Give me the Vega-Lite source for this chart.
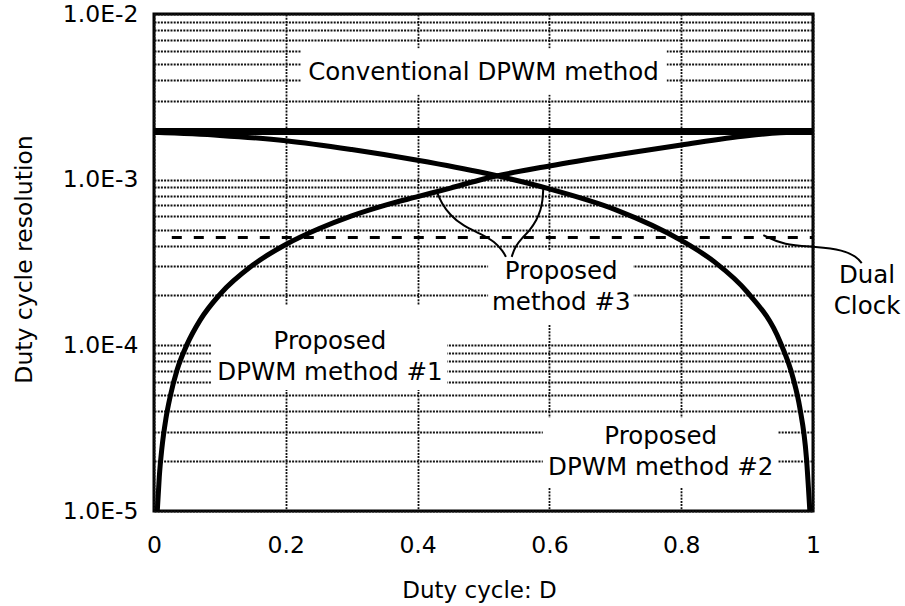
{
  "$schema": "https://vega.github.io/schema/vega-lite/v6.json",
  "width": 659,
  "height": 497,
  "autosize": {"type": "none"},
  "padding": {"left": 154, "top": 14, "right": 92, "bottom": 95},
  "background": "white",
  "config": {"view": {"stroke": "black", "strokeWidth": 3}, "font": "DejaVu Sans"},
  "datasets": {
    "boxes": [
      {"D": 0.223, "D2": 0.778, "res": 0.00325, "res2": 0.00622},
      {"D": 0.507, "D2": 0.727, "res": 0.000133, "res2": 0.000376},
      {"D": 0.087, "D2": 0.445, "res": 0.0000537, "res2": 0.000175},
      {"D": 0.59, "D2": 0.947, "res": 0.00001377, "res2": 0.0000364}
    ],
    "conventional": [{"D": 0, "res": 0.001953}, {"D": 1, "res": 0.001953}],
    "dual": [{"D": 0.027, "res": 0.000447}, {"D": 1, "res": 0.000447}],
    "rising": [
      {"D": 0.005, "res": 0.00001},
      {"D": 0.008, "res": 0.000016},
      {"D": 0.012, "res": 0.000024},
      {"D": 0.018, "res": 0.000036},
      {"D": 0.025, "res": 0.00005},
      {"D": 0.035, "res": 0.000071},
      {"D": 0.05, "res": 0.000101},
      {"D": 0.07, "res": 0.000142},
      {"D": 0.1, "res": 0.000203},
      {"D": 0.15, "res": 0.000305},
      {"D": 0.2, "res": 0.000406},
      {"D": 0.25, "res": 0.000505},
      {"D": 0.3, "res": 0.000605},
      {"D": 0.35, "res": 0.0007},
      {"D": 0.4, "res": 0.00079},
      {"D": 0.45, "res": 0.00089},
      {"D": 0.5, "res": 0.00101},
      {"D": 0.6, "res": 0.00121},
      {"D": 0.7, "res": 0.00141},
      {"D": 0.8, "res": 0.00162},
      {"D": 0.9, "res": 0.00184},
      {"D": 0.95, "res": 0.00192},
      {"D": 1.0, "res": 0.001953}
    ],
    "falling": [
      {"D": 0, "res": 0.00193},
      {"D": 0.1, "res": 0.00185},
      {"D": 0.2, "res": 0.00172},
      {"D": 0.3, "res": 0.00152},
      {"D": 0.4, "res": 0.00131},
      {"D": 0.5, "res": 0.0011},
      {"D": 0.6, "res": 0.00088},
      {"D": 0.7, "res": 0.00066},
      {"D": 0.8, "res": 0.00043},
      {"D": 0.85, "res": 0.00032},
      {"D": 0.9, "res": 0.00021},
      {"D": 0.95, "res": 0.000105},
      {"D": 0.97, "res": 0.000063},
      {"D": 0.98, "res": 0.000042},
      {"D": 0.99, "res": 0.000021},
      {"D": 0.9952, "res": 0.00001}
    ],
    "leaders": [
      {"lead": "dual", "i": 0, "D": 0.9246, "res": 0.000463},
      {"lead": "dual", "i": 1, "D": 0.955, "res": 0.000403},
      {"lead": "dual", "i": 2, "D": 1.0056, "res": 0.000394},
      {"lead": "dual", "i": 3, "D": 1.046, "res": 0.000376},
      {"lead": "dual", "i": 4, "D": 1.0663, "res": 0.000342},
      {"lead": "dual", "i": 5, "D": 1.0739, "res": 0.000313},
      {"lead": "left3", "i": 0, "D": 0.429, "res": 0.000845},
      {"lead": "left3", "i": 1, "D": 0.4366, "res": 0.000719},
      {"lead": "left3", "i": 2, "D": 0.4492, "res": 0.000611},
      {"lead": "left3", "i": 3, "D": 0.4693, "res": 0.000525},
      {"lead": "left3", "i": 4, "D": 0.4947, "res": 0.000474},
      {"lead": "left3", "i": 5, "D": 0.5175, "res": 0.000422},
      {"lead": "left3", "i": 6, "D": 0.53, "res": 0.000367},
      {"lead": "left3", "i": 7, "D": 0.534, "res": 0.000342},
      {"lead": "right3", "i": 0, "D": 0.5907, "res": 0.000886},
      {"lead": "right3", "i": 1, "D": 0.5898, "res": 0.000753},
      {"lead": "right3", "i": 2, "D": 0.5868, "res": 0.000655},
      {"lead": "right3", "i": 3, "D": 0.5807, "res": 0.000571},
      {"lead": "right3", "i": 4, "D": 0.5706, "res": 0.000496},
      {"lead": "right3", "i": 5, "D": 0.558, "res": 0.000442},
      {"lead": "right3", "i": 6, "D": 0.5478, "res": 0.000394},
      {"lead": "right3", "i": 7, "D": 0.5428, "res": 0.000342}
    ],
    "labels": [
      {"D": 0.5, "res": 0.00438, "label": "Conventional DPWM method"},
      {"D": 0.267, "res": 0.000105, "label": "Proposed\nDPWM method #1"},
      {"D": 0.769, "res": 0.0000278, "label": "Proposed\nDPWM method #2"},
      {"D": 0.618, "res": 0.000277, "label": "Proposed\nmethod #3"},
      {"D": 1.082, "res": 0.000262, "label": "Dual\nClock"}
    ]
  },
  "encoding": {
    "x": {
      "field": "D",
      "type": "quantitative",
      "scale": {"domain": [0, 1], "nice": false, "zero": false},
      "axis": {
        "values": [0, 0.2, 0.4, 0.6, 0.8, 1],
        "format": "~g",
        "title": "Duty cycle: D",
        "grid": true,
        "gridColor": "#111111",
        "gridDash": [2, 1.2],
        "gridWidth": 1.8,
        "domain": false,
        "ticks": false,
        "tickSize": 0,
        "labelFont": "DejaVu Sans",
        "labelFontSize": 23.5,
        "labelColor": "black",
        "labelPadding": 41,
        "labelBaseline": "alphabetic",
        "labelFlush": false,
        "labelOverlap": false,
        "labelBound": false,
        "titleFont": "DejaVu Sans",
        "titleFontSize": 23,
        "titleFontWeight": "normal",
        "titleColor": "black",
        "titleX": 325,
        "titleY": 86,
        "titleBaseline": "alphabetic",
        "titleAlign": "center"
      }
    },
    "y": {
      "field": "res",
      "type": "quantitative",
      "scale": {"type": "log", "domain": [0.00001, 0.01], "nice": false},
      "axis": {
        "values": [0.00001, 0.00002, 0.00003, 0.00004, 0.00005, 0.00006, 0.00007, 0.00008, 0.00009,
                   0.0001, 0.0002, 0.0003, 0.0004, 0.0005, 0.0006, 0.0007, 0.0008, 0.0009,
                   0.001, 0.002, 0.003, 0.004, 0.005, 0.006, 0.007, 0.008, 0.009, 0.01],
        "labelExpr": "datum.value == 0.01 ? '1.0E-2' : datum.value == 0.001 ? '1.0E-3' : datum.value == 0.0001 ? '1.0E-4' : datum.value == 0.00001 ? '1.0E-5' : ''",
        "title": "Duty cycle resolution",
        "grid": true,
        "gridColor": "#111111",
        "gridDash": [2, 1.2],
        "gridWidth": 1.8,
        "domain": false,
        "ticks": false,
        "tickSize": 0,
        "labelFont": "DejaVu Sans",
        "labelFontSize": 23.5,
        "labelColor": "black",
        "labelPadding": 16,
        "labelAlign": "right",
        "labelBaseline": "middle",
        "labelFlush": false,
        "labelOverlap": false,
        "labelBound": false,
        "titleFont": "DejaVu Sans",
        "titleFontSize": 23.5,
        "titleFontWeight": "normal",
        "titleColor": "black",
        "titleAngle": 270,
        "titleX": -123,
        "titleY": 245,
        "titleBaseline": "alphabetic",
        "titleAlign": "center"
      }
    }
  },
  "layer": [
    {
      "data": {"name": "boxes"},
      "mark": {"type": "rect", "fill": "white", "strokeWidth": 0},
      "encoding": {"x2": {"field": "D2"}, "y2": {"field": "res2"}}
    },
    {
      "data": {"name": "conventional"},
      "mark": {"type": "line", "color": "black", "strokeWidth": 7},
      "encoding": {}
    },
    {
      "data": {"name": "dual"},
      "mark": {"type": "line", "color": "black", "strokeWidth": 3, "strokeDash": [10, 12]},
      "encoding": {}
    },
    {
      "data": {"name": "rising"},
      "mark": {"type": "line", "color": "black", "strokeWidth": 5, "interpolate": "monotone"},
      "encoding": {}
    },
    {
      "data": {"name": "falling"},
      "mark": {"type": "line", "color": "black", "strokeWidth": 5, "interpolate": "monotone"},
      "encoding": {}
    },
    {
      "data": {"name": "leaders"},
      "mark": {"type": "line", "color": "black", "strokeWidth": 2, "interpolate": "basis"},
      "encoding": {
        "detail": {"field": "lead", "type": "nominal"},
        "order": {"field": "i", "type": "quantitative"}
      }
    },
    {
      "data": {"name": "labels"},
      "mark": {"type": "text", "font": "DejaVu Sans", "fontSize": 24.5, "lineBreak": "\n", "lineHeight": 31, "align": "center", "baseline": "middle", "color": "black"},
      "encoding": {"text": {"field": "label", "type": "nominal"}}
    }
  ]
}
